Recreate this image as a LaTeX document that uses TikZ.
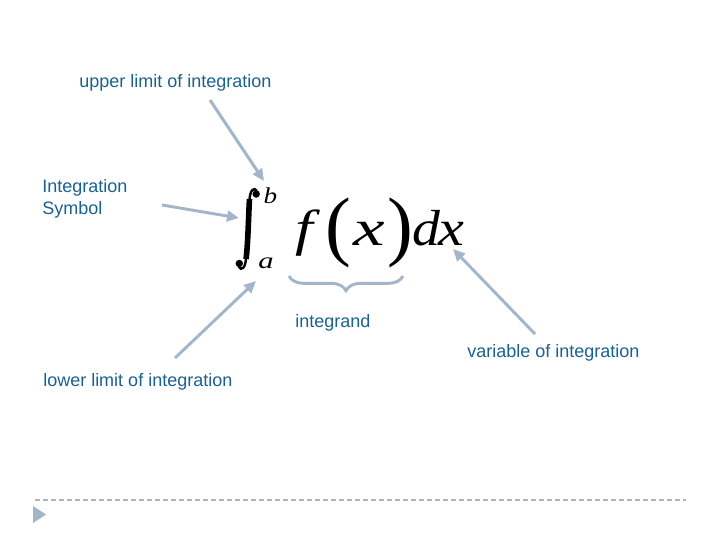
\documentclass[tikz,border=0pt]{standalone}
\usepackage{fontspec}
\setmainfont{Liberation Sans}
\newfontfamily\mserif{Liberation Serif}
\usetikzlibrary{arrows.meta,decorations.pathreplacing}
\definecolor{lbl}{HTML}{1A6190}
\definecolor{arr}{HTML}{A3B6C9}
\definecolor{rulecol}{HTML}{A8B4C0}
\tikzset{
  lab/.style={text=lbl,font=\fontsize{13.5}{16.5}\selectfont,inner sep=0pt},
  pointer/.style={draw=arr,line width=2.2pt,-{Triangle[length=9pt,width=8pt]}},
  mbig/.style={inner sep=0pt,anchor=base,font=\mserif\itshape\fontsize{38}{40}\selectfont},
  msmall/.style={inner sep=0pt,anchor=base,font=\mserif\itshape\fontsize{17}{18}\selectfont},
  paren/.style={inner sep=0pt,font=\mserif\fontsize{58}{60}\selectfont}
}
\begin{document}
\begin{tikzpicture}[x=0.75pt,y=-0.75pt]
\useasboundingbox (0,0) rectangle (720,540);
% integral sign
\draw[line width=4.2pt] (249.5,199) .. controls (248.5,215) and (248,245) .. (246,259);
\draw[line width=1.8pt] (249.5,200) .. controls (250,190) and (254,186.5) .. (257,191);
\fill (256.2,194) circle[radius=2.8pt];
\draw[line width=1.8pt] (246,258) .. controls (245.5,268) and (241.5,271.5) .. (238.5,266.5);
\fill (239.3,263.5) circle[radius=2.8pt];
% limits
\node[msmall] (b) at (270.5,203) {\scalebox{1.2}[1]{b}};
\node[msmall] (a) at (266,268) {\scalebox{1.35}[1]{a}};
% integrand
\node[mbig] (f) at (304,245) {\scalebox{1.25}[1]{f}};
\node[paren] (lp) at (338.5,232.5) {(};
\node[mbig] (x) at (369,245) {\scalebox{1.4}[1]{x}};
\node[paren] (rp) at (400,232.5) {)};
\node[mbig] (d) at (426,245) {\scalebox{1.1}[1]{d}};
\node[mbig] (x2) at (451,245) {\scalebox{1.15}[1]{x}};
\coordinate (btip) at (264,181);
\coordinate (itip) at (239,218);
\coordinate (atip) at (256,281);
\coordinate (dxtip) at (453,249);
% labels
\node[lab,anchor=base west] (up) at (79,87) {upper limit of integration};
\node[lab,anchor=base west,align=left] (sym) at (42,214) {Integration\\Symbol};
\node[lab,anchor=base west] (igd) at (295,327) {integrand};
\node[lab,anchor=base west] (var) at (467,357) {variable of integration};
\node[lab,anchor=base west] (low) at (43,386) {lower limit of integration};
\coordinate (s1) at (210,100);
\coordinate (s2) at (162,205);
\coordinate (s3) at (175,358);
\coordinate (s4) at (535,334);
\draw[pointer] (s1) -- (btip);
\draw[pointer] (s2) -- (itip);
\draw[pointer] (s3) -- (atip);
\draw[pointer] (s4) -- (dxtip);
% brace
\coordinate (bl) at (289,276);
\coordinate (br) at (403,276);
\draw[arr,line width=2.2pt,decorate,decoration={brace,amplitude=11pt,mirror}] (bl) -- (br);
% footer
\coordinate (d1) at (35,500);
\coordinate (d2) at (686,500);
\draw[rulecol,line width=0.8pt,dash pattern=on 4pt off 2pt] (d1) -- (d2);
\coordinate (t1) at (33,506);
\coordinate (t2) at (33,523);
\coordinate (t3) at (46,514.5);
\fill[arr] (t1) -- (t3) -- (t2) -- cycle;
\end{tikzpicture}
\end{document}
